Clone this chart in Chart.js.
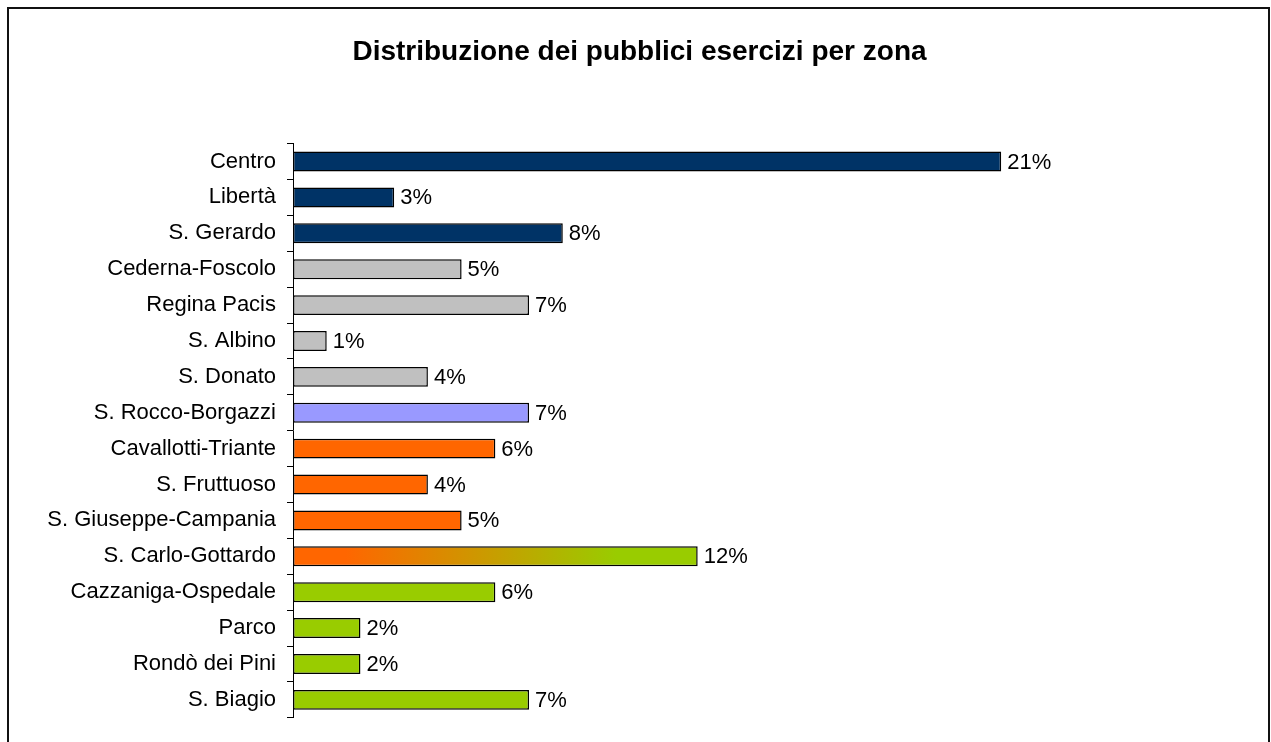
<!DOCTYPE html>
<html>
<head>
<meta charset="utf-8">
<script src="https://cdn.jsdelivr.net/npm/chart.js@4"></script>
<style>
    body { margin: 0; background: #fff; overflow: hidden; }
    #wrap { position: relative; width: 1271px; height: 742px; }
    #cornice { position: absolute; left: 7px; top: 7px; width: 1259px; height: 800px; border: 2px solid #111; }
    #grafico { position: absolute; left: 0; top: 0; }
</style>
</head>
<body>
<div id="wrap">
    <div id="cornice"></div>
    <canvas id="grafico" width="1271" height="742"></canvas>
</div>
<script>
// zone e percentuali
let zone = ["Centro", "Libertà", "S. Gerardo", "Cederna-Foscolo", "Regina Pacis", "S. Albino",
    "S. Donato", "S. Rocco-Borgazzi", "Cavallotti-Triante", "S. Fruttuoso", "S. Giuseppe-Campania",
    "S. Carlo-Gottardo", "Cazzaniga-Ospedale", "Parco", "Rondò dei Pini", "S. Biagio"];
let percentuali = [21, 3, 8, 5, 7, 1, 4, 7, 6, 4, 5, 12, 6, 2, 2, 7];
let colori = ["#003366", "#003366", "#003366", "#C0C0C0", "#C0C0C0", "#C0C0C0", "#C0C0C0",
    "#9999FF", "#FF6600", "#FF6600", "#FF6600", "sfumato", "#99CC00", "#99CC00", "#99CC00", "#99CC00"];

const font = "'Liberation Sans', Arial, sans-serif";

function coloreBarra(ctx) {
    let c = colori[ctx.dataIndex];
    if (c !== "sfumato") return c;
    let chart = ctx.chart;
    if (!chart.chartArea) return "#FF6600";
    let x0 = chart.scales.x.getPixelForValue(0);
    let x1 = chart.scales.x.getPixelForValue(percentuali[ctx.dataIndex]);
    let g = chart.ctx.createLinearGradient(x0, 0, x1, 0);
    g.addColorStop(0, "#FF6600");
    g.addColorStop(0.13, "#FF6600");
    g.addColorStop(0.8, "#99CC00");
    g.addColorStop(1, "#99CC00");
    return g;
}

// etichette percentuali a destra delle barre
const etichette = {
    id: "etichette",
    afterDatasetsDraw(chart) {
        let ctx = chart.ctx;
        let meta = chart.getDatasetMeta(0);
        ctx.save();
        ctx.font = "22px " + font;
        ctx.fillStyle = "#000";
        ctx.textAlign = "left";
        ctx.textBaseline = "middle";
        meta.data.forEach((bar, i) => {
            ctx.fillText(percentuali[i] + "%", bar.x + 6, bar.y + 1);
        });
        ctx.restore();
    }
};

new Chart("grafico", {
    type: "bar",
    data: {
        labels: zone,
        datasets: [{
            data: percentuali,
            backgroundColor: coloreBarra,
            borderColor: "#000",
            borderWidth: 1.5,
            borderSkipped: false,
            barPercentage: 0.555,
            categoryPercentage: 1
        }]
    },
    options: {
        responsive: false,
        animation: false,
        indexAxis: "y",
        layout: { padding: { top: 10, bottom: 23, left: 8, right: 0 } },
        plugins: {
            legend: { display: false },
            tooltip: { enabled: false },
            title: {
                display: true,
                text: "Distribuzione dei pubblici esercizi per zona",
                color: "#000",
                font: { family: font, size: 28, weight: "bold" },
                padding: { top: 25, bottom: 75 }
            }
        },
        scales: {
            x: {
                display: false,
                min: 0,
                max: 29
            },
            y: {
                afterFit: (s) => { s.width = 285; },
                grid: {
                    offset: true,
                    drawOnChartArea: false,
                    drawTicks: true,
                    tickLength: 6,
                    color: "#000"
                },
                border: { display: true, color: "#000", width: 1 },
                ticks: {
                    color: "#000",
                    padding: 11,
                    font: { family: font, size: 22 }
                }
            }
        }
    },
    plugins: [etichette]
});
</script>
</body>
</html>
